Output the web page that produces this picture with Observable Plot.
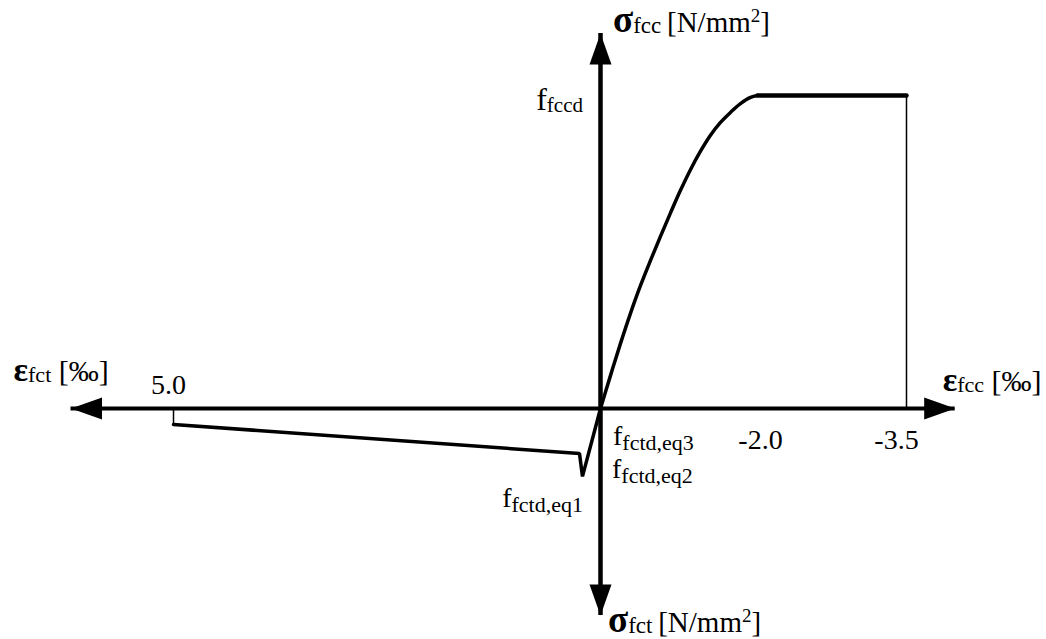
<!DOCTYPE html>
<html>
<head>
<meta charset="utf-8">
<script src="https://cdn.jsdelivr.net/npm/d3@7"></script>
<script src="https://cdn.jsdelivr.net/npm/@observablehq/plot@0.6"></script>
<style>
  html, body { margin: 0; padding: 0; background: #fff; }
  svg { display: block; }
</style>
</head>
<body>
<div id="chart"></div>
<script>
// Design stress–strain diagram for fibre concrete.
// Strain ε in ‰: tension positive (drawn to the left), compression negative (drawn to the right).
// Stress σ as a fraction of f_fccd: compression positive (up), tension negative (down).

// Compression branch: parabola up to -2.0 ‰, then the plateau to -3.5 ‰
const compEps = [0, -0.127, -0.255, -0.382, -0.510, -0.637, -0.764, -0.892, -1.019, -1.146, -1.274, -1.401, -1.529, -1.656, -1.783, -1.911, -2.0];
const compSig = [0, 0.105, 0.208, 0.304, 0.393, 0.473, 0.550, 0.625, 0.697, 0.763, 0.822, 0.873, 0.914, 0.946, 0.974, 0.994, 1.0];
const plateauEps = [-2.0, -3.5];
const plateauSig = [1.0, 1.0];

// Tension branch: f_fctd,eq1 peak, then the residual line out to 5.0 ‰
const tensEps = [0, 0.211, 0.246, 5.0];
const tensSig = [0, -0.217, -0.144, -0.051];

// Tick values along the strain axis
const tickValues = [5.0, -2.0, -3.5];
const tickLabels = ["5.0", "-2.0", "-3.5"];

// Extent of the drawn axes (arrow tips)
const axisEps = [6.2, -3.99];
const axisSig = [-0.661, 1.198];

const SERIF = "'Liberation Serif', 'Times New Roman', serif";

const toRows = (xs, ys) => xs.map((x, i) => ({eps: x, sig: ys[i]}));
const compression = toRows(compEps, compSig);
const plateau = toRows(plateauEps, plateauSig);
const tension = toRows(tensEps, tensSig);

// Filled arrowheads, tip at the symbol origin
const head = (dx, dy) => ({
  draw(ctx) {
    const L = 31, W = 11;
    ctx.moveTo(0, 0);
    ctx.lineTo(dx * L - dy * W, dy * L + dx * W);
    ctx.lineTo(dx * L + dy * W, dy * L - dx * W);
    ctx.closePath();
  }
});
const headUp = head(0, 1), headDown = head(0, -1), headLeft = head(1, 0), headRight = head(-1, 0);

const tickNudge = {"5.0": [-5, -15], "-2.0": [3, 40], "-3.5": [-10, 40]};

const svg = Plot.plot({
  width: 1046,
  height: 639,
  style: {background: "#fff", overflow: "visible"},
  x: {type: "linear", domain: [5, 0, -2, -3.5], range: [173, 600, 757, 906], axis: null},
  y: {type: "linear", domain: [0, 1], range: [408, 95], axis: null},
  marks: [
    // axes
    Plot.ruleY([0], {x1: axisEps[0], x2: axisEps[1], stroke: "#000", strokeWidth: 4}),
    Plot.ruleX([0], {y1: axisSig[0], y2: axisSig[1], stroke: "#000", strokeWidth: 4.5}),
    Plot.dot([0], {x: axisEps[0], y: 0, symbol: headLeft, fill: "#000", stroke: "none"}),
    Plot.dot([0], {x: axisEps[1], y: 0, symbol: headRight, fill: "#000", stroke: "none"}),
    Plot.dot([0], {x: 0, y: axisSig[1], symbol: headUp, fill: "#000", stroke: "none"}),
    Plot.dot([0], {x: 0, y: axisSig[0], symbol: headDown, fill: "#000", stroke: "none"}),
    // thin end verticals
    Plot.ruleX([plateauEps[1]], {y1: 0, y2: plateauSig[1], stroke: "#000", strokeWidth: 1.5}),
    Plot.ruleX([tensEps[3]], {y1: 0, y2: tensSig[3], stroke: "#000", strokeWidth: 1.5}),
    // stress–strain curve
    Plot.line(tension, {x: "eps", y: "sig", stroke: "#000", strokeWidth: 3.5, strokeLinejoin: "miter"}),
    Plot.line(compression, {x: "eps", y: "sig", stroke: "#000", strokeWidth: 3.5, curve: "catmull-rom"}),
    Plot.line(plateau, {x: "eps", y: "sig", stroke: "#000", strokeWidth: 4.5}),
    // strain ticks
    ...tickValues.map((v, i) => Plot.text([v], {
      x: (d) => d, y: 0, text: () => tickLabels[i],
      dx: tickNudge[tickLabels[i]][0], dy: tickNudge[tickLabels[i]][1],
      lineAnchor: "bottom", textAnchor: "middle",
      fontSize: 28, fontFamily: SERIF, fill: "#000"
    }))
  ]
});

document.getElementById("chart").appendChild(svg);

// Axis titles and stress labels with sub-/superscripts, placed through the plot scales
const sx = svg.scale("x"), sy = svg.scale("y");
const g = d3.select(svg).append("g").attr("font-family", SERIF).attr("fill", "#000");

function label(eps, sig, dx, dy, anchor, parts) {
  const t = g.append("text")
    .attr("x", sx.apply(eps) + dx)
    .attr("y", sy.apply(sig) + dy)
    .attr("text-anchor", anchor);
  for (const p of parts) {
    const s = t.append("tspan").attr("font-size", p.size).text(p.text);
    if (p.dy) s.attr("dy", p.dy);
    if (p.bold) s.attr("font-weight", "bold");
  }
}

const unitParts = [
  {text: "\u2009[N/mm", size: 29, dy: -1},
  {text: "2", size: 19, dy: -10},
  {text: "]", size: 29, dy: 10}
];

// σ_fcc [N/mm²] at the top of the stress axis
label(0, axisSig[1], 13, -1, "start", [
  {text: "σ", size: 37, bold: true},
  {text: "fcc", size: 23, dy: 1},
  ...unitParts
]);
// σ_fct [N/mm²] at the bottom
label(0, axisSig[0], 8, 17, "start", [
  {text: "σ", size: 37, bold: true},
  {text: "fct", size: 23, dy: 1},
  ...unitParts
]);
// ε_fct [‰] at the tension end of the strain axis
label(axisEps[0], 0, -57, -27, "start", [
  {text: "ε", size: 34, bold: true},
  {text: "fct", size: 22, dy: 1},
  {text: " [‰]", size: 30, dy: -1}
]);
// ε_fcc [‰] at the compression end
label(axisEps[1], 0, -12, -17, "start", [
  {text: "ε", size: 34, bold: true},
  {text: "fcc", size: 22, dy: 1},
  {text: " [‰]", size: 30, dy: -1}
]);
// f_fccd next to the plateau level
label(0, plateauSig[0], -17, 15, "end", [
  {text: "f", size: 32},
  {text: "fccd", size: 21, dy: 2}
]);
// f_fctd,eq3 and f_fctd,eq2 right of the origin
label(0, 0, 13, 37, "start", [
  {text: "f", size: 28},
  {text: "fctd,eq3", size: 22, dy: 5}
]);
label(0, 0, 12, 70, "start", [
  {text: "f", size: 28},
  {text: "fctd,eq2", size: 22, dy: 5}
]);
// f_fctd,eq1 under the tension peak
label(tensEps[1], tensSig[1], 1, 31, "end", [
  {text: "f", size: 28},
  {text: "fctd,eq1", size: 22, dy: 5}
]);
</script>
</body>
</html>
